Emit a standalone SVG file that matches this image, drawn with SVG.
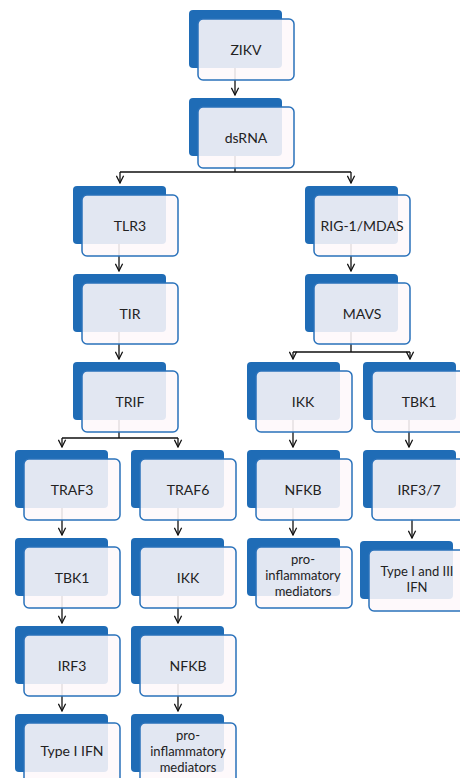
<svg xmlns="http://www.w3.org/2000/svg" width="460" height="778" viewBox="0 0 460 778">
<style>
.bk{fill:#1f6cb6}
.fr{fill:#fef8fb;fill-opacity:0.88;stroke:#2a72bb;stroke-width:1.5}
.t{font-family:Lato,"Liberation Sans",sans-serif;font-size:14px;fill:#222;text-anchor:middle}
.s{font-size:13px}
.c{fill:none;stroke:#111;stroke-width:1.3}
</style>
<defs>
<marker id="ah" viewBox="0 0 10 10" refX="9" refY="5" markerWidth="9" markerHeight="9" markerUnits="userSpaceOnUse" orient="auto">
<path d="M1,1 L9,5 L1,9" fill="none" stroke="#111" stroke-width="1.4"/>
</marker>
</defs>
<rect width="460" height="778" fill="#fff"/>
<g id="connectors">
<path class="c" d="M235,68 V95" marker-end="url(#ah)"/>
<path class="c" d="M235,156 V172 H120 M235,172 H351"/>
<path class="c" d="M120,172 V183" marker-end="url(#ah)"/>
<path class="c" d="M351,172 V183" marker-end="url(#ah)"/>
<path class="c" d="M119,244 V271" marker-end="url(#ah)"/>
<path class="c" d="M119,332 V359" marker-end="url(#ah)"/>
<path class="c" d="M119,420 V438 H62 M119,438 H178"/>
<path class="c" d="M62,438 V447" marker-end="url(#ah)"/>
<path class="c" d="M178,438 V447" marker-end="url(#ah)"/>
<path class="c" d="M351,244 V271" marker-end="url(#ah)"/>
<path class="c" d="M351,332 V352 H293 M351,352 H410"/>
<path class="c" d="M293,352 V359" marker-end="url(#ah)"/>
<path class="c" d="M410,352 V359" marker-end="url(#ah)"/>
<path class="c" d="M62,508 V535" marker-end="url(#ah)"/>
<path class="c" d="M62,596 V623" marker-end="url(#ah)"/>
<path class="c" d="M62,684 V711" marker-end="url(#ah)"/>
<path class="c" d="M178,508 V535" marker-end="url(#ah)"/>
<path class="c" d="M178,596 V623" marker-end="url(#ah)"/>
<path class="c" d="M178,684 V711" marker-end="url(#ah)"/>
<path class="c" d="M293,420 V447" marker-end="url(#ah)"/>
<path class="c" d="M293,508 V535" marker-end="url(#ah)"/>
<path class="c" d="M409,420 V447" marker-end="url(#ah)"/>
<path class="c" d="M412,519 V538" marker-end="url(#ah)"/>
</g>
<g id="n-zikv"><rect class="bk" x="189" y="10" width="93" height="58" rx="4"/><rect class="fr" x="198" y="19" width="96" height="61" rx="5"/><text class="t" x="246" y="55">ZIKV</text></g>
<g id="n-dsrna"><rect class="bk" x="189" y="98" width="93" height="58" rx="4"/><rect class="fr" x="198" y="107" width="96" height="61" rx="5"/><text class="t" x="246" y="143">dsRNA</text></g>
<g id="n-tlr3"><rect class="bk" x="73" y="186" width="93" height="58" rx="4"/><rect class="fr" x="82" y="195" width="96" height="61" rx="5"/><text class="t" x="130" y="231">TLR3</text></g>
<g id="n-tir"><rect class="bk" x="73" y="274" width="93" height="58" rx="4"/><rect class="fr" x="82" y="283" width="96" height="61" rx="5"/><text class="t" x="130" y="319">TIR</text></g>
<g id="n-trif"><rect class="bk" x="73" y="362" width="93" height="58" rx="4"/><rect class="fr" x="82" y="371" width="96" height="61" rx="5"/><text class="t" x="130" y="407">TRIF</text></g>
<g id="n-rig"><rect class="bk" x="305" y="186" width="93" height="58" rx="4"/><rect class="fr" x="314" y="195" width="96" height="61" rx="5"/><text class="t" x="362" y="231">RIG-1/MDAS</text></g>
<g id="n-mavs"><rect class="bk" x="305" y="274" width="93" height="58" rx="4"/><rect class="fr" x="314" y="283" width="96" height="61" rx="5"/><text class="t" x="362" y="319">MAVS</text></g>
<g id="n-traf3"><rect class="bk" x="15" y="450" width="93" height="58" rx="4"/><rect class="fr" x="24" y="459" width="96" height="61" rx="5"/><text class="t" x="72" y="495">TRAF3</text></g>
<g id="n-tbk1-l"><rect class="bk" x="15" y="538" width="93" height="58" rx="4"/><rect class="fr" x="24" y="547" width="96" height="61" rx="5"/><text class="t" x="72" y="583">TBK1</text></g>
<g id="n-irf3"><rect class="bk" x="15" y="626" width="93" height="58" rx="4"/><rect class="fr" x="24" y="635" width="96" height="61" rx="5"/><text class="t" x="72" y="671">IRF3</text></g>
<g id="n-ifn1"><rect class="bk" x="15" y="714" width="93" height="58" rx="4"/><rect class="fr" x="24" y="723" width="96" height="61" rx="5"/><text class="t" x="72" y="756">Type I IFN</text></g>
<g id="n-traf6"><rect class="bk" x="131" y="450" width="93" height="58" rx="4"/><rect class="fr" x="140" y="459" width="96" height="61" rx="5"/><text class="t" x="188" y="495">TRAF6</text></g>
<g id="n-ikk-l"><rect class="bk" x="131" y="538" width="93" height="58" rx="4"/><rect class="fr" x="140" y="547" width="96" height="61" rx="5"/><text class="t" x="188" y="583">IKK</text></g>
<g id="n-nfkb-l"><rect class="bk" x="131" y="626" width="93" height="58" rx="4"/><rect class="fr" x="140" y="635" width="96" height="61" rx="5"/><text class="t" x="188" y="671">NFKB</text></g>
<g id="n-pro-l"><rect class="bk" x="131" y="714" width="93" height="58" rx="4"/><rect class="fr" x="140" y="723" width="96" height="61" rx="5"/><text class="t s" x="188" y="740">pro-</text><text class="t s" x="188" y="756">inflammatory</text><text class="t s" x="188" y="772">mediators</text></g>
<g id="n-ikk-r"><rect class="bk" x="247" y="362" width="93" height="58" rx="4"/><rect class="fr" x="256" y="371" width="96" height="61" rx="5"/><text class="t" x="303" y="407">IKK</text></g>
<g id="n-nfkb-r"><rect class="bk" x="247" y="450" width="93" height="58" rx="4"/><rect class="fr" x="256" y="459" width="96" height="61" rx="5"/><text class="t" x="303" y="495">NFKB</text></g>
<g id="n-pro-r"><rect class="bk" x="247" y="538" width="93" height="58" rx="4"/><rect class="fr" x="256" y="547" width="96" height="61" rx="5"/><text class="t s" x="303" y="564">pro-</text><text class="t s" x="303" y="580">inflammatory</text><text class="t s" x="303" y="596">mediators</text></g>
<g id="n-tbk1-r"><rect class="bk" x="363" y="362" width="93" height="58" rx="4"/><rect class="fr" x="372" y="371" width="96" height="61" rx="5"/><text class="t" x="419" y="407">TBK1</text></g>
<g id="n-irf37"><rect class="bk" x="363" y="450" width="93" height="58" rx="4"/><rect class="fr" x="372" y="459" width="96" height="61" rx="5"/><text class="t" x="419" y="495">IRF3/7</text></g>
<g id="n-ifn13"><rect class="bk" x="360" y="541" width="93" height="58" rx="4"/><rect class="fr" x="369" y="550" width="96" height="61" rx="5"/><text class="t s" x="417" y="576">Type I and III</text><text class="t s" x="417" y="592">IFN</text></g>
</svg>
